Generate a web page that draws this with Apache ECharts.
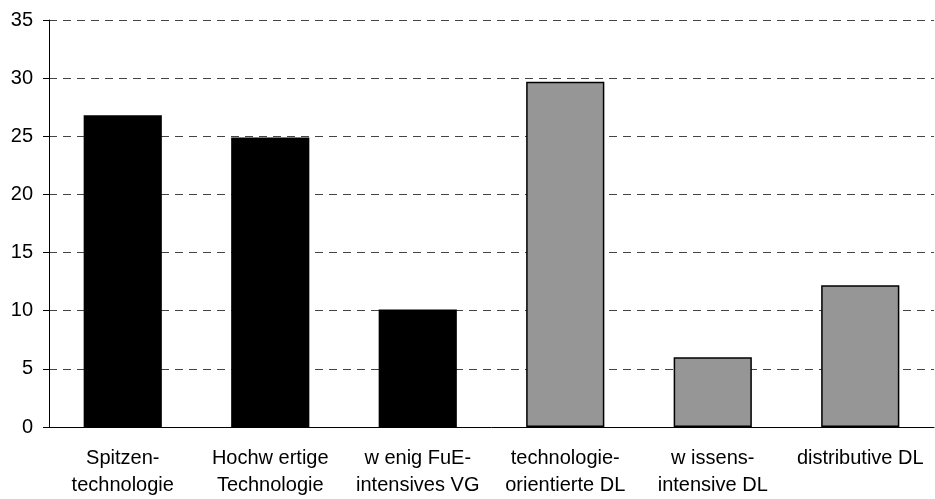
<!DOCTYPE html>
<html><head><meta charset="utf-8">
<script src="https://cdn.jsdelivr.net/npm/echarts@6/dist/echarts.min.js"></script>
<style>html,body{margin:0;padding:0;background:#fff}#c{width:935px;height:499px}</style>
</head><body><div id="c"></div>
<script>
var categories = ["Spitzen-\ntechnologie", "Hochw ertige\nTechnologie", "w enig FuE-\nintensives VG", "technologie-\norientierte DL", "w issens-\nintensive DL", "distributive DL"];
var values = [26.8, 24.9, 10.1, 29.7, 6.0, 12.2];
var groups = ["VG", "VG", "VG", "DL", "DL", "DL"];
var yTicks = [0, 5, 10, 15, 20, 25, 30, 35];

var chart = echarts.init(document.getElementById('c'));
var data = values.map(function (v, i) {
  var vg = groups[i] === "VG";
  return {
    value: v,
    itemStyle: vg ? { color: '#000000', borderColor: '#000000', borderWidth: 0 }
                  : { color: '#969696', borderColor: '#000000', borderWidth: 1.5 }
  };
});
chart.setOption({
  animation: false,
  grid: { left: 49, right: 1, top: 20, bottom: 71, containLabel: false },
  xAxis: {
    type: 'category', data: categories,
    axisLine: { lineStyle: { color: '#000', width: 1 } },
    axisTick: { show: false },
    axisLabel: { color: '#000', fontFamily: 'Liberation Sans, Arial, sans-serif', fontSize: 20, lineHeight: 27, margin: 18, interval: 0 }
  },
  yAxis: {
    type: 'value', min: yTicks[0], max: yTicks[yTicks.length - 1], interval: 5,
    axisLine: { show: true, lineStyle: { color: '#000', width: 1 } },
    axisTick: { show: true, length: 6, lineStyle: { color: '#000' } },
    axisLabel: { color: '#000', fontFamily: 'Liberation Sans, Arial, sans-serif', fontSize: 20, margin: 16 },
    splitLine: { show: true, lineStyle: { color: '#444', type: [8, 6], width: 1 } }
  },
  series: [{ type: 'bar', data: data, barWidth: '53%' }]
});
</script></body></html>
